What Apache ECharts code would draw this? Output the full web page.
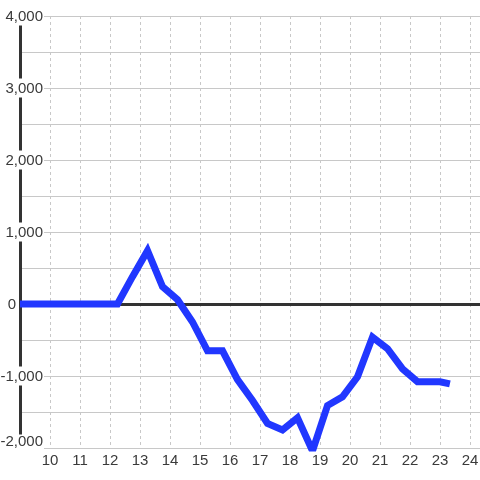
<!DOCTYPE html>
<html><head><meta charset="utf-8">
<script src="https://cdn.jsdelivr.net/npm/echarts@6/dist/echarts.min.js"></script>
<style>html,body{margin:0;padding:0;background:#fff}#c{width:480px;height:480px}</style>
</head><body><div id="c"></div>
<script>
const xValues = [9, 12.25, 12.75, 13.25, 13.75, 14.25, 14.75, 15.25, 15.75, 16.25, 16.75, 17.25, 17.75, 18.25, 18.75, 19.25, 19.75, 20.25, 20.75, 21.25, 21.75, 22.25, 22.75, 23.0, 23.33];
const yValues = [0, 0, 380, 740, 240, 60, -250, -650, -650, -1050, -1340, -1660, -1750, -1580, -2040, -1410, -1290, -1010, -460, -620, -900, -1080, -1080, -1080, -1110];
const xMin = 9, xMax = 24.333, xStep = 1;
const yMin = -2000, yMax = 4000, yGridStep = 500, yLabelStep = 1000;

const font = 'Liberation Sans, Arial, sans-serif';
const chart = echarts.init(document.getElementById('c'), null, {renderer: 'canvas'});
chart.setOption({
  animation: false,
  backgroundColor: '#fff',
  grid: {left: 20, right: 0, top: 16, bottom: 32, containLabel: false, outerBoundsMode: 'none'},
  xAxis: {
    type: 'value', min: xMin, max: xMax, interval: xStep,
    axisLine: {show: false}, axisTick: {show: false},
    axisLabel: {
      color: '#3a3a3a', fontSize: 15, fontFamily: font, margin: 5,
      showMinLabel: false,
      formatter: v => (Number.isInteger(v) && v > xMin) ? String(v) : ''
    },
    splitLine: {show: true, lineStyle: {color: '#c8c8c8', type: [3, 3], width: 1}}
  },
  yAxis: [{
    type: 'value', min: yMin, max: yMax, interval: yGridStep,
    axisLine: {show: false}, axisTick: {show: false}, axisLabel: {show: false},
    splitLine: {show: true, lineStyle: {color: '#c8c8c8', width: 1}}
  }, {
    type: 'value', min: yMin, max: yMax, interval: yLabelStep, position: 'left',
    axisLine: {show: true, lineStyle: {color: '#333', width: 3}}, axisTick: {show: false},
    splitLine: {show: false},
    axisLabel: {
      color: '#3a3a3a', fontSize: 15, fontFamily: font, margin: -24,
      formatter: v => v === 0 ? '{z|0}' : (v === yMin ? '{b|' : '{a|') + v.toLocaleString('en-US') + '}',
      rich: {
        a: {color: '#3a3a3a', fontSize: 15, fontFamily: font, backgroundColor: '#fff', padding: [3, 1, 1, 1]},
        b: {color: '#3a3a3a', fontSize: 15, fontFamily: font, backgroundColor: '#fff', padding: [0, 1, 12, 1]},
        z: {color: '#3a3a3a', fontSize: 15, fontFamily: font, padding: [2, 28, 0, 0]}
      }
    }
  }],
  series: [{
    type: 'line', yAxisIndex: 0, z: 3,
    data: xValues.map((x, i) => [x, yValues[i]]),
    showSymbol: false, symbol: 'none',
    lineStyle: {color: '#2137ff', width: 7, cap: 'butt', join: 'miter'},
    itemStyle: {color: '#2137ff'},
    markLine: {
      silent: true, symbol: 'none', z: 2,
      label: {show: false},
      lineStyle: {color: '#333', width: 3, type: 'solid'},
      data: [{yAxis: 0}]
    }
  }]
});
</script></body></html>
